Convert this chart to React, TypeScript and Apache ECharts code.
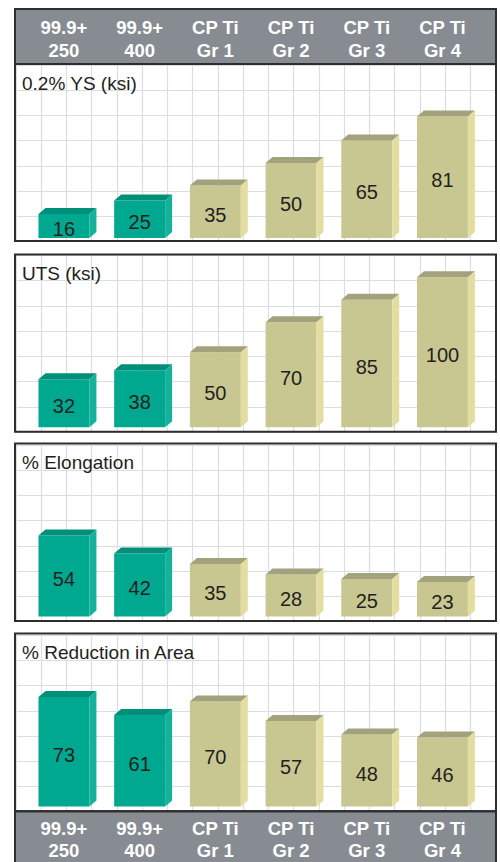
import React, { useEffect, useRef } from "react";
import * as echarts from "echarts";

// ---------- data ----------
const categories = ["99.9+\n250", "99.9+\n400", "CP Ti\nGr 1", "CP Ti\nGr 2", "CP Ti\nGr 3", "CP Ti\nGr 4"];
const materialGroup = ["pure", "pure", "cp", "cp", "cp", "cp"];
const yieldStrength = [16, 25, 35, 50, 65, 81];
const tensileStrength = [32, 38, 50, 70, 85, 100];
const elongation = [54, 42, 35, 28, 25, 23];
const reductionInArea = [73, 61, 70, 57, 48, 46];
const panelTitles = ["0.2% YS (ksi)", "UTS (ksi)", "% Elongation", "% Reduction in Area"];
const panelValues = [yieldStrength, tensileStrength, elongation, reductionInArea];

// ---------- layout / style ----------
const FONT = "'Liberation Sans', Arial, Helvetica, sans-serif";
const TEXT = "#231f20";
const HEADER_GRAY = "#868c92";
const BORDER = "#2d2d2d";
const GRIDLINE = "#dcdce3";
const COLORS: Record<string, { front: string; top: string; side: string }> = {
  pure: { front: "#00a88f", top: "#008f78", side: "#14b29b" },
  cp: { front: "#c9c791", top: "#a2a27c", side: "#e3dea0" },
};
const BOX_LEFT = 15;
const BOX_RIGHT = 496;
const PLOT_LEFT = 26.1;
const PLOT_WIDTH = 454.2;
const PLOT_HEIGHT = 174;
const Y_MAX = 116;
const GRID_STEP = 25.25;
const panelLayout = [
  { top: 64, bottom: 241, baseline: 238 },
  { top: 254.5, bottom: 431.7, baseline: 427.3 },
  { top: 443.5, bottom: 621, baseline: 616.5 },
  { top: 633.5, bottom: 811.3, baseline: 806.5 },
];

function buildOption() {
  const grids: any[] = [];
  const xAxes: any[] = [];
  const yAxes: any[] = [];
  const series: any[] = [];
  const graphics: any[] = [];

  const labelStyle = {
    show: true,
    interval: 0,
    color: "#ffffff",
    fontWeight: "bold",
    fontSize: 18.5,
    lineHeight: 22.4,
    fontFamily: FONT,
  };

  panelLayout.forEach((p, i) => {
    const bgH = GRID_STEP * 7;
    const bgW = GRID_STEP * 19;
    // main plotting grid
    grids.push({ left: PLOT_LEFT, width: PLOT_WIDTH, top: p.baseline - PLOT_HEIGHT, height: PLOT_HEIGHT });
    // background grid for the lattice lines
    grids.push({ left: 15.75, width: bgW, top: p.bottom + 0.5 - bgH, height: bgH });

    const isFirst = i === 0;
    const isLast = i === panelLayout.length - 1;
    xAxes.push({
      type: "category",
      gridIndex: 2 * i,
      data: categories,
      boundaryGap: true,
      position: isFirst ? "top" : "bottom",
      show: isFirst || isLast,
      z: 10,
      axisLine: { show: false },
      axisTick: { show: false },
      splitLine: { show: false },
      axisLabel: { ...labelStyle, margin: isFirst ? 2.5 : 10.6 },
    });
    xAxes.push({
      type: "value",
      gridIndex: 2 * i + 1,
      min: 0,
      max: bgW,
      interval: GRID_STEP,
      axisLine: { show: false },
      axisTick: { show: false },
      axisLabel: { show: false },
      splitLine: { show: true, lineStyle: { color: GRIDLINE, width: 1.2 } },
    });
    yAxes.push({
      type: "value",
      gridIndex: 2 * i,
      min: 0,
      max: Y_MAX,
      show: false,
      splitLine: { show: false },
    });
    yAxes.push({
      type: "value",
      gridIndex: 2 * i + 1,
      min: 0,
      max: bgH,
      interval: GRID_STEP,
      axisLine: { show: false },
      axisTick: { show: false },
      axisLabel: { show: false },
      splitLine: { show: true, lineStyle: { color: GRIDLINE, width: 1.2 } },
    });

    series.push({
      type: "custom",
      name: panelTitles[i],
      xAxisIndex: 2 * i,
      yAxisIndex: 2 * i,
      z: 5,
      data: panelValues[i].map((v, k) => [k, v]),
      encode: { x: 0, y: 1 },
      renderItem: (params: any, api: any) => {
        const idx = api.value(0);
        const val = api.value(1);
        const base = api.coord([idx, 0]);
        const topPt = api.coord([idx, val]);
        const band = api.size([1, 0])[0];
        const bw = band * 0.673;
        const dx = 7;
        const dy = 6;
        const x0 = base[0] - bw / 2;
        const x1 = base[0] + bw / 2;
        const y0 = base[1];
        const y1 = topPt[1];
        const c = COLORS[materialGroup[idx]];
        return {
          type: "group",
          children: [
            { type: "rect", shape: { x: x0, y: y1, width: bw, height: y0 - y1 }, style: { fill: c.front } },
            {
              type: "polygon",
              shape: { points: [[x0, y1], [x1, y1], [x1 + dx, y1 - dy], [x0 + dx, y1 - dy]] },
              style: { fill: c.top },
            },
            {
              type: "polygon",
              shape: { points: [[x1, y1], [x1 + dx, y1 - dy], [x1 + dx, y0 - dy], [x1, y0]] },
              style: { fill: c.side },
            },
            {
              type: "text",
              x: base[0],
              y: (y0 + y1) / 2 + 3,
              style: {
                text: String(val),
                fill: TEXT,
                fontSize: 20,
                fontFamily: FONT,
                align: "center",
                verticalAlign: "middle",
              },
            },
          ],
        };
      },
    });

    // panel border
    graphics.push({
      type: "rect",
      z: 20,
      silent: true,
      shape: { x: BOX_LEFT, y: p.top, width: BOX_RIGHT - BOX_LEFT, height: p.bottom - p.top },
      style: { fill: "rgba(0,0,0,0)", stroke: BORDER, lineWidth: 2 },
    });
    // panel title
    graphics.push({
      type: "text",
      z: 21,
      x: 22,
      y: p.top + 19,
      style: {
        text: panelTitles[i],
        fill: TEXT,
        fontSize: 19,
        fontFamily: FONT,
        align: "left",
        verticalAlign: "middle",
      },
    });
  });

  // header bands
  graphics.unshift(
    {
      type: "rect",
      z: 1,
      silent: true,
      shape: { x: BOX_LEFT, y: 9, width: BOX_RIGHT - BOX_LEFT, height: 55 },
      style: { fill: HEADER_GRAY, stroke: BORDER, lineWidth: 2 },
    },
    {
      type: "rect",
      z: 1,
      silent: true,
      shape: { x: BOX_LEFT, y: 811.3, width: BOX_RIGHT - BOX_LEFT, height: 70 },
      style: { fill: HEADER_GRAY, stroke: BORDER, lineWidth: 2 },
    }
  );

  return {
    animation: false,
    backgroundColor: "#ffffff",
    textStyle: { fontFamily: FONT },
    grid: grids,
    xAxis: xAxes,
    yAxis: yAxes,
    series,
    graphic: { elements: graphics },
  };
}

export default function App() {
  const ref = useRef<HTMLDivElement>(null);
  useEffect(() => {
    if (!ref.current) return;
    const chart = echarts.init(ref.current, undefined, { renderer: "svg" });
    chart.setOption(buildOption() as any);
    return () => chart.dispose();
  }, []);
  return (
    <div
      ref={ref}
      style={{ position: "fixed", left: 0, top: 0, width: 500, height: 862, background: "#fff" }}
    />
  );
}
